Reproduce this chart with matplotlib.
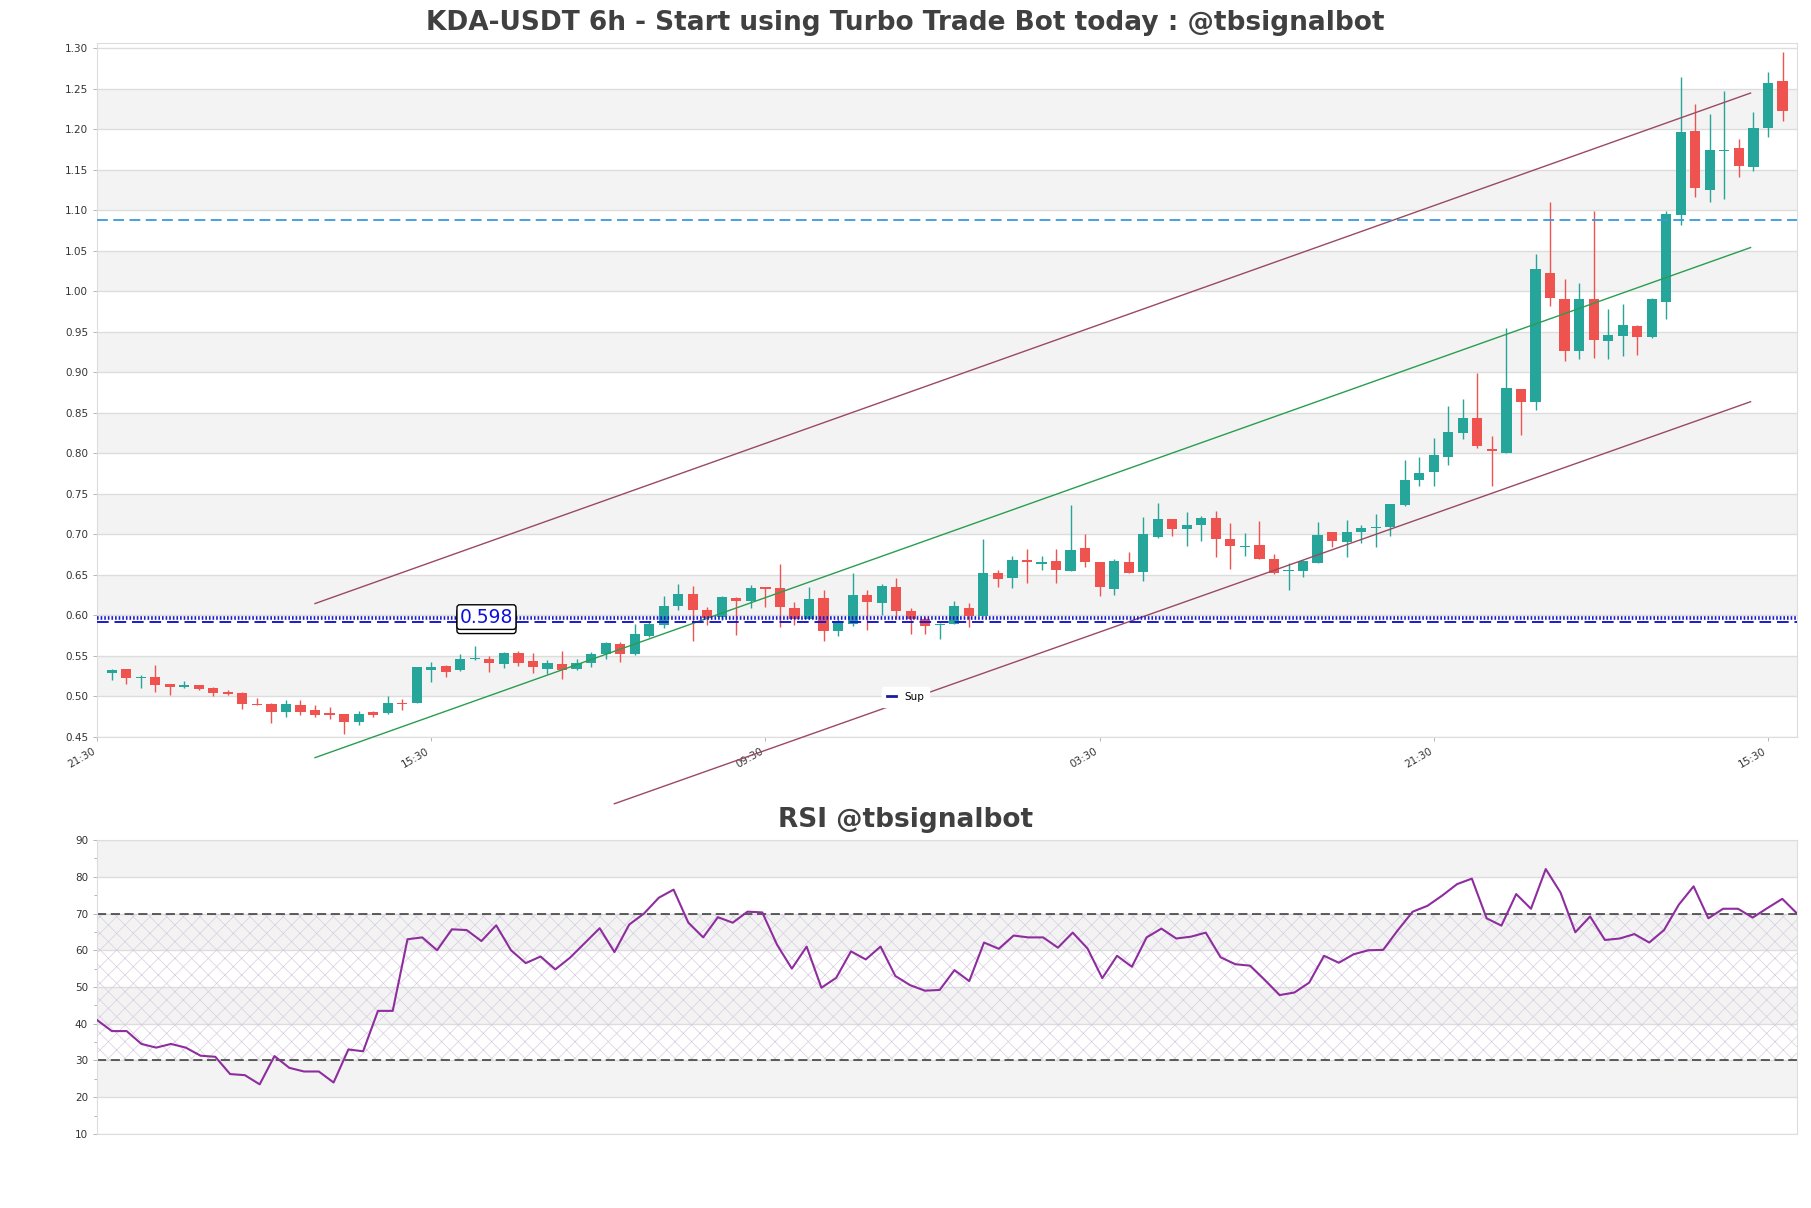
import matplotlib
import numpy as np

matplotlib.use("Agg")
import matplotlib.pyplot as plt
import matplotlib.patheffects as pe
from matplotlib.ticker import MultipleLocator, FormatStrFormatter


# 6h candles, index 0..115
opens = [
    0.5295, 0.5336, 0.5225, 0.5237, 0.5151, 0.5118, 0.5138, 0.5105, 0.5052, 0.5048,
    0.4912, 0.4912, 0.4809, 0.4891, 0.4829, 0.4792, 0.4780, 0.4685, 0.4805, 0.4792,
    0.4924, 0.4920, 0.5332, 0.5373, 0.5328, 0.5460, 0.5468, 0.5402, 0.5542, 0.5439,
    0.5336, 0.5406, 0.5336, 0.5414, 0.5521, 0.5653, 0.5521, 0.5744, 0.5884, 0.6119,
    0.6263, 0.6065, 0.5983, 0.6217, 0.6176, 0.6350, 0.6340, 0.6094, 0.5962, 0.6217,
    0.5806, 0.5900, 0.6250, 0.6156, 0.6353, 0.6053, 0.5962, 0.5888, 0.5900, 0.6094,
    0.5995, 0.6518, 0.6465, 0.6683, 0.6638, 0.6670, 0.6551, 0.6827, 0.6658, 0.6329,
    0.6654, 0.6539, 0.6971, 0.7185, 0.7070, 0.7120, 0.7198, 0.6938, 0.6840, 0.6864,
    0.6703, 0.6547, 0.6553, 0.6652, 0.7027, 0.6911, 0.7027, 0.7076, 0.7097, 0.7361,
    0.7670, 0.7765, 0.7962, 0.8247, 0.8432, 0.8058, 0.8008, 0.8791, 0.8634, 1.0232,
    0.9911, 0.9264, 0.9911, 0.9388, 0.9450, 0.9574, 0.9437, 0.9870, 1.0945, 1.1974,
    1.1253, 1.1731, 1.1769, 1.1538, 1.2016, 1.2596,
]
highs = [
    0.5344, 0.5340, 0.5262, 0.5386, 0.5159, 0.5188, 0.5147, 0.5118, 0.5077, 0.5060,
    0.4986, 0.4925, 0.4953, 0.4953, 0.4891, 0.4871, 0.4790, 0.4817, 0.4817, 0.5002,
    0.4974, 0.5365, 0.5423, 0.5394, 0.5521, 0.5620, 0.5500, 0.5555, 0.5558, 0.5538,
    0.5447, 0.5558, 0.5468, 0.5550, 0.5674, 0.5674, 0.5892, 0.5921, 0.6238, 0.6386,
    0.6362, 0.6106, 0.6238, 0.6230, 0.6374, 0.6355, 0.6633, 0.6168, 0.6353, 0.6312,
    0.5962, 0.6530, 0.6312, 0.6386, 0.6465, 0.6086, 0.5983, 0.5905, 0.6180, 0.6156,
    0.6942, 0.6560, 0.6732, 0.6819, 0.6732, 0.6819, 0.7362, 0.7000, 0.6665, 0.6703,
    0.6786, 0.7218, 0.7383, 0.7190, 0.7272, 0.7231, 0.7288, 0.7136, 0.7020, 0.7169,
    0.6753, 0.6642, 0.6680, 0.7150, 0.7035, 0.7179, 0.7113, 0.7249, 0.7380, 0.7921,
    0.7962, 0.8189, 0.8589, 0.8667, 0.8988, 0.8214, 0.9544, 0.8800, 1.0459, 1.1105,
    1.0158, 1.0100, 1.0994, 0.9788, 0.9841, 0.9580, 0.9924, 1.0986, 1.2642, 1.2312,
    1.2189, 1.2477, 1.1880, 1.2218, 1.2703, 1.2959,
]
lows = [
    0.5200, 0.5159, 0.5105, 0.5056, 0.5015, 0.5110, 0.5077, 0.5002, 0.5015, 0.4850,
    0.4890, 0.4673, 0.4747, 0.4768, 0.4747, 0.4727, 0.4541, 0.4652, 0.4747, 0.4780,
    0.4830, 0.4915, 0.5180, 0.5241, 0.5320, 0.5455, 0.5303, 0.5353, 0.5377, 0.5291,
    0.5283, 0.5217, 0.5330, 0.5365, 0.5468, 0.5427, 0.5510, 0.5730, 0.5847, 0.6073,
    0.5686, 0.5880, 0.5950, 0.5756, 0.6086, 0.6106, 0.5859, 0.5888, 0.5955, 0.5686,
    0.5748, 0.5872, 0.5818, 0.6003, 0.5962, 0.5777, 0.5777, 0.5707, 0.5895, 0.5859,
    0.5990, 0.6353, 0.6341, 0.6395, 0.6560, 0.6395, 0.6545, 0.6600, 0.6242, 0.6250,
    0.6518, 0.6427, 0.6950, 0.6979, 0.6860, 0.6922, 0.6724, 0.6568, 0.6736, 0.6700,
    0.6515, 0.6312, 0.6479, 0.6650, 0.6850, 0.6726, 0.6891, 0.6850, 0.6986, 0.7355,
    0.7600, 0.7600, 0.7851, 0.8181, 0.8070, 0.7600, 0.8000, 0.8222, 0.8535, 0.9820,
    0.9141, 0.9161, 0.9182, 0.9161, 0.9202, 0.9214, 0.9429, 0.9664, 1.0821, 1.1167,
    1.1097, 1.1138, 1.1406, 1.1488, 1.1900, 1.2106,
]
closes = [
    0.5324, 0.5229, 0.5237, 0.5138, 0.5118, 0.5138, 0.5089, 0.5044, 0.5027, 0.4908,
    0.4895, 0.4809, 0.4904, 0.4809, 0.4768, 0.4768, 0.4685, 0.4788, 0.4776, 0.4924,
    0.4912, 0.5361, 0.5365, 0.5303, 0.5468, 0.5472, 0.5414, 0.5542, 0.5418, 0.5365,
    0.5410, 0.5332, 0.5418, 0.5530, 0.5661, 0.5521, 0.5777, 0.5892, 0.6123, 0.6263,
    0.6065, 0.5970, 0.6230, 0.6180, 0.6340, 0.6330, 0.6106, 0.5962, 0.6200, 0.5806,
    0.5933, 0.6250, 0.6168, 0.6366, 0.6053, 0.5962, 0.5872, 0.5900, 0.6115, 0.5995,
    0.6518, 0.6452, 0.6683, 0.6654, 0.6654, 0.6560, 0.6806, 0.6662, 0.6353, 0.6670,
    0.6530, 0.7000, 0.7185, 0.7070, 0.7111, 0.7198, 0.6938, 0.6860, 0.6852, 0.6703,
    0.6526, 0.6560, 0.6672, 0.6994, 0.6924, 0.7027, 0.7076, 0.7093, 0.7373, 0.7674,
    0.7756, 0.7983, 0.8263, 0.8441, 0.8091, 0.8029, 0.8803, 0.8638, 1.0274, 0.9923,
    0.9264, 0.9903, 0.9400, 0.9458, 0.9582, 0.9441, 0.9903, 1.0956, 1.1962, 1.1278,
    1.1744, 1.1744, 1.1550, 1.2016, 1.2572, 1.2230,
]

rsi = [
    41.0, 38.0, 38.0, 34.5, 33.5, 34.5, 33.5, 31.3, 31.0, 26.3,
    26.0, 23.5, 31.2, 28.0, 27.0, 27.0, 24.0, 33.0, 32.5, 43.5,
    43.5, 63.0, 63.5, 60.0, 65.7, 65.5, 62.5, 66.8, 60.0, 56.5,
    58.3, 54.8, 58.0, 62.0, 66.0, 59.5, 67.0, 70.0, 74.3, 76.5,
    67.5, 63.5, 69.0, 67.5, 70.5, 70.3, 61.5, 55.0, 61.0, 49.8,
    52.5, 59.7, 57.5, 61.0, 53.0, 50.5, 49.0, 49.2, 54.6, 51.6,
    62.1, 60.4, 64.0, 63.5, 63.5, 60.7, 64.8, 60.5, 52.4, 58.5,
    55.5, 63.5, 65.9, 63.2, 63.7, 64.8, 58.1, 56.2, 55.8, 51.9,
    47.8, 48.5, 51.2, 58.5, 56.6, 58.9, 60.0, 60.1, 65.5, 70.5,
    72.1, 74.9, 78.0, 79.5, 68.7, 66.7, 75.3, 71.3, 82.1, 75.7,
    64.9, 69.2, 62.8, 63.2, 64.4, 62.1, 65.5, 72.4, 77.4, 68.7,
    71.3, 71.3, 68.9, 71.5, 74.0, 70.0,
]

tick_idx = [-1, 22, 45, 68, 91, 114]
tick_labels = ["21:30", "15:30", "09:30", "03:30", "21:30", "15:30"]

# channel lines: (x0, y0, x1, y1) in candle index / price
channel_upper = (14.0, 0.6147, 112.8, 1.2448)
channel_mid = (14.0, 0.4245, 112.8, 1.0541)
channel_lower = (34.6, 0.3676, 112.8, 0.8638)

sup_level = 0.5965
sup_dash_level = 0.5917
sup_label = 0.598
res_level = 1.088

UP = "#26a69a"
DOWN = "#ef5350"
BAND = "#f3f3f3"
GRID = "#dddddd"
TXT = "#404040"


def style_axis(ax):
    for s in ax.spines.values():
        s.set_color(GRID)
    ax.tick_params(axis="both", labelsize=7.5, labelcolor="#333333", length=3, width=0.6,
                   color="#aaaaaa")


def main() -> None:
    plt.rcParams["hatch.linewidth"] = 0.5
    fig = plt.figure(figsize=(18.11, 12.08), dpi=100)
    ax = fig.add_axes([0.0536, 0.3899, 0.9387, 0.5748])
    ax_rsi = fig.add_axes([0.0536, 0.0613, 0.9387, 0.2433])

    # ---- price panel
    ax.set_xlim(-1, 116)
    ax.set_ylim(0.45, 1.307)
    for lo in np.arange(0.50, 1.25, 0.10):
        ax.axhspan(lo, lo + 0.05, color=BAND, zorder=0, lw=0)
    for y in np.arange(0.45, 1.301, 0.05):
        ax.axhline(y, color=GRID, lw=1.0, zorder=0.5)

    x = np.arange(len(opens))
    o = np.array(opens)
    c = np.array(closes)
    colors = np.where(c >= o, UP, DOWN)
    ax.vlines(x, lows, highs, colors=colors, lw=1.0, zorder=2)
    bottoms = np.minimum(o, c)
    heights = np.maximum(np.abs(c - o), 0.0012)
    ax.bar(x, heights, bottom=bottoms, width=0.7, color=colors, lw=0, zorder=3)

    for (x0, y0, x1, y1), col in [
        (channel_upper, "#9a4a60"),
        (channel_mid, "#2a9d4f"),
        (channel_lower, "#9a4a60"),
    ]:
        ax.plot([x0, x1], [y0, y1], color=col, lw=1.0, zorder=4, clip_on=False)

    ax.axhline(res_level, color="#3a9ad8", lw=1.3, ls=(0, (6, 3)), zorder=4)
    ax.axhline(sup_dash_level, color="#1a1acc", lw=1.4, ls=(0, (6, 3)), zorder=4)
    ax.axhline(sup_level, color="#1a1acc", lw=2.6, ls=(0, (0.45, 0.55)), zorder=4, label="Sup")

    t = ax.text(
        25.8, sup_label, "0.598", ha="center", va="center", fontsize=13.5, color="#1010dd",
        zorder=6, bbox=dict(boxstyle="round,pad=0.15", fc="white", ec="black", lw=1.0),
    )
    t.get_bbox_patch().set_path_effects([
        pe.Stroke(offset=(0, -3), linewidth=1.0, foreground="black"),
        pe.Normal(),
    ])

    ax.yaxis.set_major_locator(MultipleLocator(0.05))
    ax.yaxis.set_major_formatter(FormatStrFormatter("%.2f"))
    ax.set_xticks(tick_idx)
    ax.set_xticklabels(tick_labels, rotation=30, ha="right")
    style_axis(ax)

    leg = ax.legend(
        loc="center", bbox_to_anchor=(0.5, 1 - 697 / 1208), bbox_transform=fig.transFigure,
        fontsize=7.5, handlelength=0.8, frameon=True, fancybox=True, borderpad=0.5,
    )
    leg.get_frame().set_edgecolor("white")
    leg.get_frame().set_alpha(1.0)
    for h in leg.get_lines():
        h.set_linestyle("-")
        h.set_linewidth(2.0)
        h.set_color("#1a1aa0")

    # ---- RSI panel
    ax_rsi.set_xlim(0, len(rsi) - 1)
    ax_rsi.set_ylim(10, 90)
    for lo in [20, 40, 60, 80]:
        ax_rsi.axhspan(lo, lo + 10, color=BAND, zorder=0, lw=0)
    for y in range(10, 91, 10):
        ax_rsi.axhline(y, color=GRID, lw=1.0, zorder=0.5)
    ax_rsi.fill_between(
        [0, len(rsi) - 1], 30, 70, facecolor="none", hatch="xx", edgecolor="#d8cde0",
        lw=0, zorder=0.8,
    )
    ax_rsi.axhline(70, color="#333333", lw=1.1, ls=(0, (6, 3)), zorder=2)
    ax_rsi.axhline(30, color="#333333", lw=1.1, ls=(0, (6, 3)), zorder=2)
    ax_rsi.plot(np.arange(len(rsi)), rsi, color="#8e2d9e", lw=1.5, zorder=3)
    ax_rsi.yaxis.set_major_locator(MultipleLocator(10))
    ax_rsi.yaxis.set_minor_locator(MultipleLocator(5))
    ax_rsi.set_xticks([])
    style_axis(ax_rsi)
    ax_rsi.tick_params(axis="y", which="minor", length=2, color="#aaaaaa")

    fig.text(0.5, 1 - 23 / 1208, "KDA-USDT 6h - Start using Turbo Trade Bot today : @tbsignalbot",
             ha="center", va="center", fontsize=19, fontweight="bold", color=TXT)
    fig.text(0.5, 1 - 820 / 1208, "RSI @tbsignalbot",
             ha="center", va="center", fontsize=19, fontweight="bold", color=TXT)

    fig.savefig("out.png", dpi=100)
    plt.close(fig)


if __name__ == "__main__":
    main()
